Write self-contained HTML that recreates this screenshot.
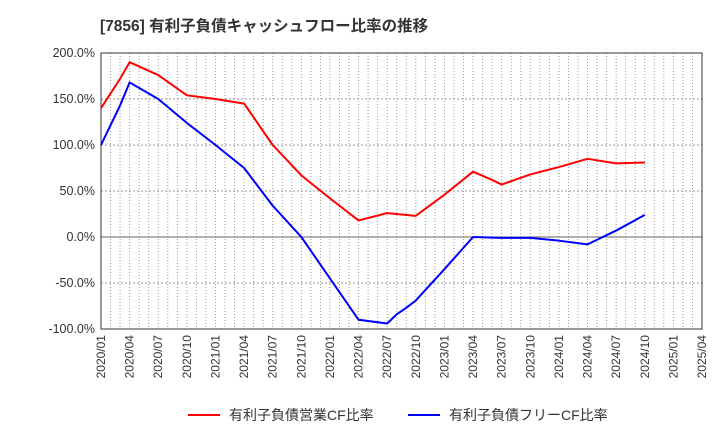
<!DOCTYPE html>
<html><head><meta charset="utf-8"><style>
body{margin:0;background:#fff;font-family:"Liberation Sans","Noto Sans CJK JP",sans-serif}
svg text{font-family:"Liberation Sans","Noto Sans CJK JP",sans-serif}
</style></head><body>
<svg id="c" width="720" height="440">
<text x="100" y="31" font-size="15.5" font-weight="bold" fill="#333">[7856]  有利子負債キャッシュフロー比率の推移</text>
<g id="grid"></g><g id="axes"></g><g id="series"></g>
<g>
<line x1="188" y1="415" x2="220" y2="415" stroke="#f00" stroke-width="2"/>
<text x="229" y="420" font-size="14" fill="#333">有利子負債営業CF比率</text>
<line x1="408" y1="415" x2="440" y2="415" stroke="#00f" stroke-width="2"/>
<text x="449" y="420" font-size="14" fill="#333">有利子負債フリーCF比率</text>
</g>
</svg>
<script>
const xTickLabels=["2020/01","2020/04","2020/07","2020/10","2021/01","2021/04","2021/07","2021/10","2022/01","2022/04","2022/07","2022/10","2023/01","2023/04","2023/07","2023/10","2024/01","2024/04","2024/07","2024/10","2025/01","2025/04"];
const yTicks=[200,150,100,50,0,-50,-100];
const redMonths=[0,2,3,6,9,12,15,18,21,24,27,30,33,36,39,41,42,45,48,51,54,57];
const redValues=[140,172,190,176,154,150,145,100,67,42,18,26,23,46,71,62,57,68,76,85,80,81];
const blueMonths=[0,2,3,6,9,12,15,18,21,24,27,30,31,32,33,36,39,42,45,48,51,54,57];
const blueValues=[100,143,168,150,124,100,75,34,0,-45,-90,-94,-84,-77,-69,-35,0,-1,-1,-4,-8,7,24];
const L=101,R=702,T=53,B=329,NS="http://www.w3.org/2000/svg";
const xs=m=>L+(R-L)*m/63;
const ys=v=>T+(B-T)*(200-v)/300;
function mk(p,t,a){const e=document.createElementNS(NS,t);for(const k in a)e.setAttribute(k,a[k]);document.getElementById(p).appendChild(e);return e;}
for(let m=1;m<63;m++){const e=mk('grid','line',{x1:xs(m),x2:xs(m),y1:T,y2:B,stroke:'#999','stroke-dasharray':'1,2','stroke-width':1});

}
yTicks.forEach(v=>{const e=mk('grid','line',{x1:L,x2:R,y1:ys(v),y2:ys(v),stroke:v===0?'#666':'#999','stroke-dasharray':v===0?'':'2,2'});


const t=mk('axes','text',{x:L-6,y:ys(v)+4,'font-size':12.5,'text-anchor':'end',fill:'#333'});t.textContent=v.toFixed(1)+'%';

});
const fr=mk('axes','rect',{x:L,y:T,width:R-L,height:B-T,fill:'none',stroke:'#333'});


xTickLabels.forEach((s,i)=>{const x=xs(i*3);const t=mk('axes','text',{x:x+4,y:B+6,'font-size':12,'text-anchor':'end',fill:'#333',transform:`rotate(-90 ${x+4} ${B+6})`});t.textContent=s;

});
function line(ms,vs,c,n){const p=mk('series','polyline',{points:ms.map((m,i)=>xs(m)+','+ys(vs[i])).join(' '),fill:'none',stroke:c,'stroke-width':2,'stroke-linejoin':'round'});

}
line(redMonths,redValues,'#f00','operating-cf-ratio-line');
line(blueMonths,blueValues,'#00f','free-cf-ratio-line');
</script>
</body></html>
